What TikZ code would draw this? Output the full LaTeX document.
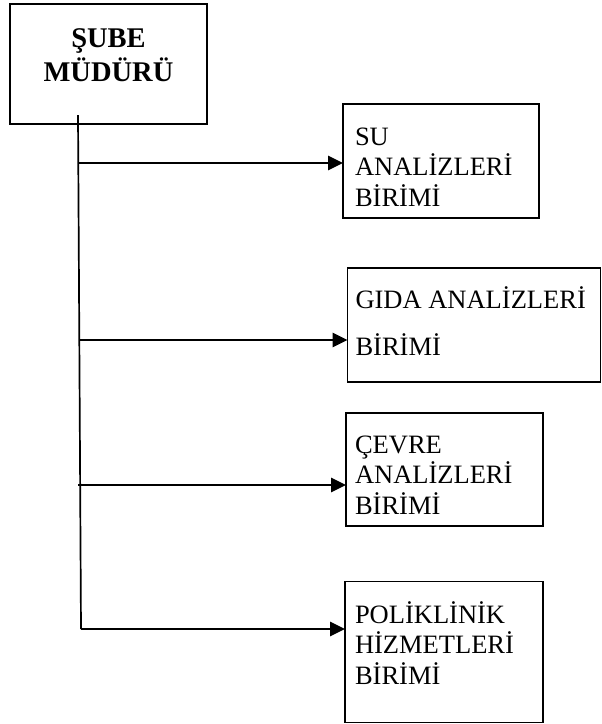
\documentclass[tikz,border=0pt]{standalone}
\usepackage{fontspec}
\setmainfont{Liberation Serif}
\usetikzlibrary{arrows.meta,calc}
\newdimen\bpad
% #1 width, #2 height, #3 first baseline from top, #4 line distance, #5 left pad, #6 lines
\newcommand\boxlines[6]{\vbox to #2{\hsize=#1\relax\hrule height0pt width #1\relax
  \fontsize{26.5}{#4}\selectfont\baselineskip=#4\relax\bpad=#5\relax
  \vskip\dimexpr #3-20pt\relax #6\vss}}
\newcommand\bl[1]{\hbox{\hskip\bpad\rule{0pt}{20pt}#1}}
\newcommand\cl[1]{\hbox to\hsize{\hss\rule{0pt}{20pt}#1\hss}}
\tikzset{
  ubox/.style={draw, line width=1.7pt, inner sep=0pt, outer sep=0pt},
  link/.style={line width=1.7pt},
  arr/.style={line width=1.7pt, -{Triangle[length=15pt,width=14.5pt]}}
}
\begin{document}
\begin{tikzpicture}[x=1pt,y=-1pt]
\useasboundingbox (0,0) rectangle (602,724);
\fill[white] (0,0) rectangle (602,724);
% head
\node[ubox] (head) at (108.5,64) {\vbox to 120pt{\hsize=197pt\hrule height0pt width\hsize
  \fontsize{28.5}{34}\selectfont\bfseries\baselineskip=34pt
  \vskip\dimexpr 43.7pt-20pt\relax \cl{ŞUBE}\cl{MÜDÜRÜ}\vss}};
% units
\node[ubox] (su) at (441,161) {\boxlines{196pt}{114pt}{41pt}{30.5pt}{12pt}{\bl{SU}\bl{ANALİZLERİ}\bl{BİRİMİ}}};
\node[ubox] (gida) at (474,325) {\boxlines{253pt}{114pt}{39pt}{47pt}{8pt}{\bl{GIDA ANALİZLERİ}\bl{BİRİMİ}}};
\node[ubox] (cevre) at (444.5,469.5) {\boxlines{197pt}{113pt}{40pt}{30.5pt}{9pt}{\bl{ÇEVRE}\bl{ANALİZLERİ}\bl{BİRİMİ}}};
\node[ubox] (pol) at (444,652) {\boxlines{198pt}{141pt}{40pt}{30.5pt}{10pt}{\bl{POLİKLİNİK}\bl{HİZMETLERİ}\bl{BİRİMİ}}};
% connectors
\coordinate (t0) at ($(head.south)+(-30.5,-9)$);
\coordinate (j1) at (78,163);
\coordinate (j2) at (79,340);
\coordinate (j3) at (78,485);
\coordinate (j4) at (81,629);
\draw[link] (t0) -- (j4);
\draw[arr] (j1) -- (j1 -| su.west);
\draw[arr] (j2) -- (j2 -| gida.west);
\draw[arr] (j3) -- (j3 -| cevre.west);
\draw[arr] (j4) -- (j4 -| pol.west);
\end{tikzpicture}
\end{document}
